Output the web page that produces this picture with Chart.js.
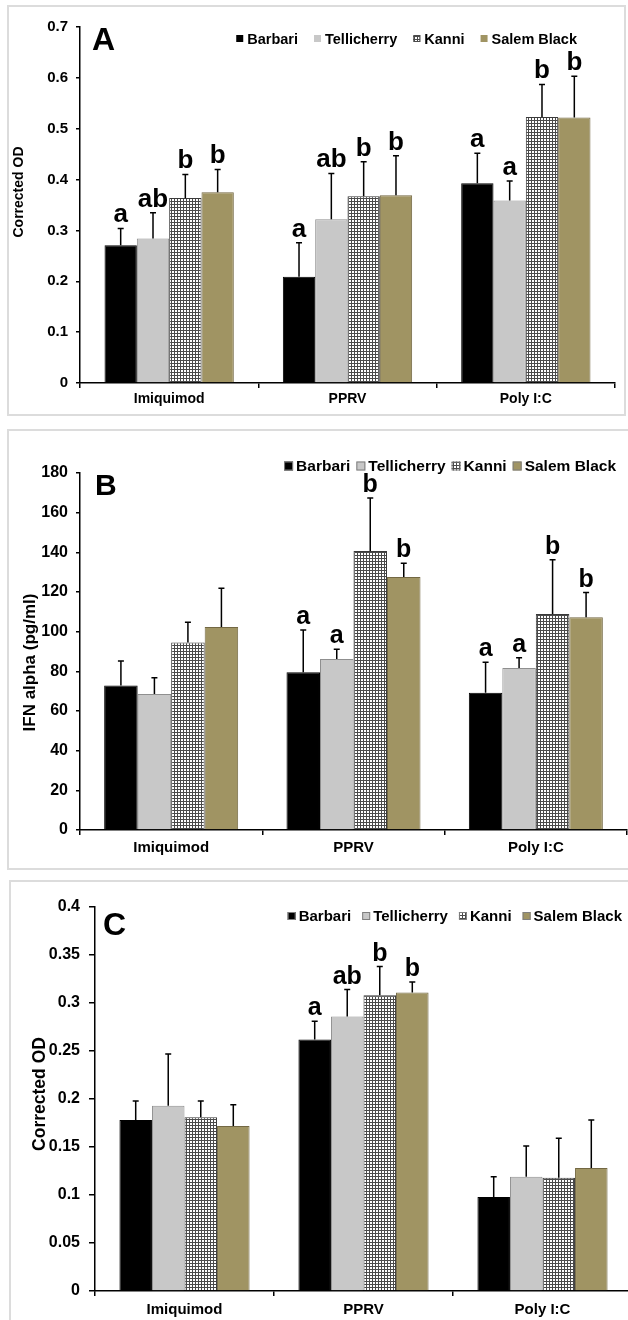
<!DOCTYPE html>
<html>
<head>
<meta charset="utf-8">
<script src="https://cdn.jsdelivr.net/npm/chart.js@4.4.0/dist/chart.umd.min.js"></script>
<style>
  html, body { margin: 0; padding: 0; background: #fff; overflow: hidden; }
  body { width: 628px; height: 1320px; position: relative; }
  .marco { position: absolute; border: 2px solid #dcdcdc; box-sizing: border-box; }
  canvas { position: absolute; left: 0; }
</style>
</head>
<body>
<div class="marco" style="left:7px; top:5px; width:619px; height:411px;"></div>
<div class="marco" style="left:7px; top:429px; width:640px; height:441px;"></div>
<div class="marco" style="left:9px; top:880px; width:640px; height:460px;"></div>
<canvas id="graficoA" width="628" height="420" style="top:0px;"></canvas>
<canvas id="graficoB" width="628" height="450" style="top:420px;"></canvas>
<canvas id="graficoC" width="640" height="450" style="top:870px;"></canvas>

<script>

var categorias = ['Imiquimod', 'PPRV', 'Poly I:C'];
var razas = ['Barbari', 'Tellicherry', 'Kanni', 'Salem Black'];

// Panel A - Corrected OD
var barbariA = [0.271, 0.209, 0.393];
var tellicherryA = [0.284, 0.322, 0.359];
var kanniA = [0.364, 0.367, 0.523];
var salemA = [0.375, 0.369, 0.522];
var errBarbariA = [0.033, 0.067, 0.059];
var errTellicherryA = [0.051, 0.090, 0.038];
var errKanniA = [0.046, 0.068, 0.064];
var errSalemA = [0.045, 0.078, 0.081];
var letrasBarbariA = ['a', 'a', 'a'];
var letrasTellicherryA = ['ab', 'ab', 'a'];
var letrasKanniA = ['b', 'b', 'b'];
var letrasSalemA = ['b', 'b', 'b'];

// Panel B - IFN alpha (pg/ml)
var barbariB = [72.8, 79.5, 69.2];
var tellicherryB = [68.6, 86.2, 81.7];
var kanniB = [94.5, 140.7, 108.9];
var salemB = [102.4, 127.6, 107.3];
var errBarbariB = [12.4, 21.4, 15.4];
var errTellicherryB = [8.2, 4.9, 5.2];
var errKanniB = [10.2, 26.7, 27.3];
var errSalemB = [19.5, 6.9, 12.4];
var letrasBarbariB = ['', 'a', 'a'];
var letrasTellicherryB = ['', 'a', 'a'];
var letrasKanniB = ['', 'b', 'b'];
var letrasSalemB = ['', 'b', 'b'];

// Panel C - Corrected OD
var barbariC = [0.178, 0.262, 0.098];
var tellicherryC = [0.193, 0.286, 0.119];
var kanniC = [0.181, 0.308, 0.118];
var salemC = [0.172, 0.311, 0.128];
var errBarbariC = [0.020, 0.019, 0.021];
var errTellicherryC = [0.054, 0.028, 0.032];
var errKanniC = [0.017, 0.030, 0.041];
var errSalemC = [0.022, 0.011, 0.050];
var letrasBarbariC = ['', 'a', ''];
var letrasTellicherryC = ['', 'ab', ''];
var letrasKanniC = ['', 'b', ''];
var letrasSalemC = ['', 'b', ''];

var ticksA = { max: 0.7, paso: 0.1 };
var ticksB = { max: 180, paso: 20 };
var ticksC = { max: 0.4, paso: 0.05 };


var fuente = '"Liberation Sans", Arial, Helvetica, sans-serif';
Chart.defaults.font.family = fuente;
Chart.defaults.font.weight = 'bold';
Chart.defaults.color = '#000';

var colores = ['#000000', '#c8c8c8', null, '#a09463'];
var bordes = ['#000000', '#8f8f8f', '#3a3a3a', '#736843'];

function patronCuadricula () {
    var c = document.createElement('canvas');
    c.width = 3; c.height = 3;
    var g = c.getContext('2d');
    g.fillStyle = '#ffffff';
    g.fillRect(0, 0, 3, 3);
    g.fillStyle = '#4a4a4a';
    g.fillRect(0, 0, 3, 1);
    g.fillRect(0, 0, 1, 3);
    return g.createPattern(c, 'repeat');
}

function armarDatasets (series, errores, letras, catPct) {
    return razas.map(function (raza, i) {
        return {
            label: raza,
            data: series[i],
            errores: errores[i],
            letras: letras[i],
            backgroundColor: i === 2 ? patronCuadricula() : colores[i],
            borderColor: bordes[i],
            borderWidth: 1,
            categoryPercentage: catPct,
            barPercentage: 1
        };
    });
}

// dibuja barras de error, letras, titulo del eje, letra del panel y leyenda
function crearExtras (conf) {
    return {
        id: 'extras' + conf.letra,
        afterDatasetsDraw: function (chart) {
            var ctx = chart.ctx;
            var ejeY = chart.scales.y;
            ctx.save();
            chart.data.datasets.forEach(function (ds, i) {
                var meta = chart.getDatasetMeta(i);
                meta.data.forEach(function (barra, j) {
                    var tope = ejeY.getPixelForValue(ds.data[j] + ds.errores[j]);
                    ctx.strokeStyle = '#000';
                    ctx.lineWidth = 1.5;
                    ctx.beginPath();
                    ctx.moveTo(barra.x, barra.y);
                    ctx.lineTo(barra.x, tope);
                    ctx.moveTo(barra.x - 3, tope);
                    ctx.lineTo(barra.x + 3, tope);
                    ctx.stroke();
                    if (ds.letras[j]) {
                        ctx.fillStyle = '#000';
                        ctx.font = 'bold ' + conf.letrasTam + 'px ' + fuente;
                        ctx.textAlign = 'center';
                        ctx.textBaseline = 'alphabetic';
                        ctx.fillText(ds.letras[j], barra.x, tope - 6);
                    }
                });
            });
            ctx.restore();
        },
        afterDraw: function (chart) {
            var ctx = chart.ctx;
            var area = chart.chartArea;
            ctx.save();
            ctx.fillStyle = '#000';

            // titulo del eje y
            ctx.save();
            ctx.font = 'bold ' + conf.tituloTam + 'px ' + fuente;
            ctx.textAlign = 'center';
            ctx.textBaseline = 'middle';
            ctx.translate(conf.tituloX, (area.top + area.bottom) / 2 + conf.tituloDy);
            ctx.rotate(-Math.PI / 2);
            ctx.fillText(conf.titulo, 0, 0);
            ctx.restore();

            ctx.font = 'bold ' + conf.letraTam + 'px ' + fuente;
            ctx.textAlign = 'left';
            ctx.textBaseline = 'alphabetic';
            ctx.fillText(conf.letra, area.left + conf.letraX, area.top + conf.letraY);

            var ley = conf.leyenda;
            ctx.font = 'bold ' + ley.tam + 'px ' + fuente;
            var total = 0;
            chart.data.datasets.forEach(function (ds, i) {
                total += ley.caja + ley.sep + ctx.measureText(ds.label).width;
                if (i > 0) total += ley.hueco;
            });
            var x = ley.derecha - total;
            ctx.textBaseline = 'middle';
            chart.data.datasets.forEach(function (ds) {
                ctx.fillStyle = ds.backgroundColor;
                ctx.fillRect(x, ley.y - ley.caja / 2, ley.caja, ley.caja);
                if (ley.borde || typeof ds.backgroundColor !== 'string') {
                    ctx.strokeStyle = ley.borde ? '#7f7f7f' : '#4a4a4a';
                    ctx.lineWidth = 1;
                    ctx.strokeRect(x + 0.5, ley.y - ley.caja / 2 + 0.5, ley.caja - 1, ley.caja - 1);
                }
                x += ley.caja + ley.sep;
                ctx.fillStyle = '#000';
                ctx.fillText(ds.label, x, ley.y + 1);
                x += ctx.measureText(ds.label).width + ley.hueco;
            });
            ctx.restore();
        }
    };
}

function generarGrafico (conf, series, errores, letras, ticks) {
    var lienzo = document.getElementById(conf.canvas);
    return new Chart(lienzo, {
        type: 'bar',
        data: {
            labels: categorias,
            datasets: armarDatasets(series, errores, letras, conf.catPct)
        },
        options: {
            responsive: false,
            animation: false,
            events: [],
            layout: {
                padding: { left: 0, top: conf.area.top, right: lienzo.width - conf.area.right, bottom: 0 }
            },
            plugins: {
                legend: { display: false },
                tooltip: { enabled: false }
            },
            scales: {
                x: {
                    afterFit: function (s) { s.height = lienzo.height - conf.area.bottom; },
                    grid: { drawOnChartArea: false, color: '#000', lineWidth: 1.5, tickLength: 5 },
                    border: { color: '#000', width: 1.5 },
                    ticks: { font: { size: conf.catTam, weight: 'bold' }, padding: conf.catPad, color: '#000' }
                },
                y: {
                    min: 0,
                    max: ticks.max,
                    afterFit: function (s) { s.width = conf.area.left; },
                    grid: { drawOnChartArea: false, color: '#000', lineWidth: 1.5, tickLength: conf.tickLargo },
                    border: { color: '#000', width: 1.5 },
                    ticks: {
                        stepSize: ticks.paso,
                        font: { size: conf.tickTam, weight: 'bold' },
                        padding: conf.tickPad,
                        color: '#000',
                        callback: function (v) { return String(Math.round(v * 1000) / 1000); }
                    }
                }
            }
        },
        plugins: [crearExtras(conf)]
    });
}

var confA = {
    canvas: 'graficoA', letra: 'A', letraTam: 32, letraX: 12, letraY: 23, letrasTam: 26,
    titulo: 'Corrected OD', tituloTam: 14, tituloX: 19, tituloDy: -13,
    tickTam: 15, tickPad: 8, tickLargo: 4, catTam: 14, catPad: 3, catPct: 0.725,
    area: { left: 80, top: 27, right: 615, bottom: 383 },
    leyenda: { derecha: 577, y: 38.5, caja: 7, sep: 4, hueco: 16, tam: 14.5, borde: false }
};
var confB = {
    canvas: 'graficoB', letra: 'B', letraTam: 30, letraX: 15, letraY: 22, letrasTam: 25,
    titulo: 'IFN alpha (pg/ml)', tituloTam: 17, tituloX: 30, tituloDy: 11,
    tickTam: 16, tickPad: 8, tickLargo: 4, catTam: 15, catPad: 4, catPct: 0.735,
    area: { left: 80, top: 53, right: 627, bottom: 410 },
    leyenda: { derecha: 616, y: 46, caja: 9, sep: 3, hueco: 6, tam: 15.5, borde: true }
};
var confC = {
    canvas: 'graficoC', letra: 'C', letraTam: 32, letraX: 8, letraY: 28, letrasTam: 25,
    titulo: 'Corrected OD', tituloTam: 17.5, tituloX: 40, tituloDy: -5,
    tickTam: 16, tickPad: 9, tickLargo: 6, catTam: 15, catPad: 5, catPct: 0.727,
    area: { left: 95, top: 37, right: 632, bottom: 421 },
    leyenda: { derecha: 622, y: 46, caja: 8, sep: 3, hueco: 11, tam: 15, borde: true }
};

generarGrafico(confA,
    [barbariA, tellicherryA, kanniA, salemA],
    [errBarbariA, errTellicherryA, errKanniA, errSalemA],
    [letrasBarbariA, letrasTellicherryA, letrasKanniA, letrasSalemA], ticksA);

generarGrafico(confB,
    [barbariB, tellicherryB, kanniB, salemB],
    [errBarbariB, errTellicherryB, errKanniB, errSalemB],
    [letrasBarbariB, letrasTellicherryB, letrasKanniB, letrasSalemB], ticksB);

generarGrafico(confC,
    [barbariC, tellicherryC, kanniC, salemC],
    [errBarbariC, errTellicherryC, errKanniC, errSalemC],
    [letrasBarbariC, letrasTellicherryC, letrasKanniC, letrasSalemC], ticksC);

</script>
</body>
</html>
